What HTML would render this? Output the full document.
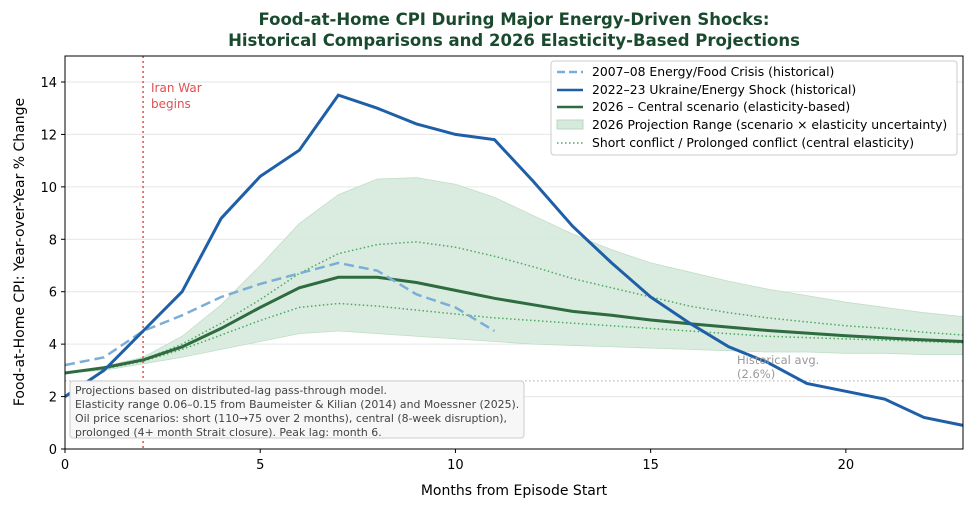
<!DOCTYPE html>
<html><head><meta charset="utf-8"><style>
body{margin:0;background:#fff}
svg text{font-family:"DejaVu Sans","Liberation Sans",sans-serif}
</style></head><body>
<svg id="s" width="979" height="512" viewBox="0 0 979 512" xmlns="http://www.w3.org/2000/svg">
<rect width="979" height="512" fill="#fff"/>
<text x="514" y="25" text-anchor="middle" font-size="16.5" font-weight="bold" fill="#1a4a2e">Food-at-Home CPI During Major Energy-Driven Shocks:</text>
<text x="514" y="46" text-anchor="middle" font-size="16.5" font-weight="bold" fill="#1a4a2e">Historical Comparisons and 2026 Elasticity-Based Projections</text>
<g id="grid" stroke="#e6e6e6" stroke-width="1"></g>
<g id="plot"></g>
<rect x="65" y="56" width="898" height="393" fill="none" stroke="#000" stroke-width="1"/>
<g id="ticks" font-size="13" fill="#000"></g>
<text x="514" y="495" text-anchor="middle" font-size="14">Months from Episode Start</text>
<text transform="translate(24,252) rotate(-90)" text-anchor="middle" font-size="14">Food-at-Home CPI: Year-over-Year % Change</text>
<text x="151" y="92" font-size="12" fill="#e05050">Iran War</text>
<text x="151" y="108" font-size="12" fill="#e05050">begins</text>
<text x="737" y="364" font-size="11.5" fill="#999">Historical avg.</text>
<text x="737" y="378" font-size="11.5" fill="#999">(2.6%)</text>
<rect x="70" y="381" width="454" height="57" rx="3" fill="#f7f7f7" stroke="#ccc"/>
<g font-size="10.9" fill="#444">
<text x="75" y="394">Projections based on distributed-lag pass-through model.</text>
<text x="75" y="408">Elasticity range 0.06–0.15 from Baumeister &amp; Kilian (2014) and Moessner (2025).</text>
<text x="75" y="422">Oil price scenarios: short (110→75 over 2 months), central (8-week disruption),</text>
<text x="75" y="436">prolonged (4+ month Strait closure). Peak lag: month 6.</text>
</g>
<rect x="551" y="61" width="406" height="94" rx="3" fill="#fff" fill-opacity="0.9" stroke="#ccc"/>
<g font-size="12.4" fill="#000">
<line x1="557" y1="72" x2="583" y2="72" stroke="#7aaed6" stroke-width="2.5" stroke-dasharray="8,4"/>
<text x="592" y="76">2007–08 Energy/Food Crisis (historical)</text>
<line x1="557" y1="90" x2="583" y2="90" stroke="#1f5fa8" stroke-width="2.5"/>
<text x="592" y="94">2022–23 Ukraine/Energy Shock (historical)</text>
<line x1="557" y1="107" x2="583" y2="107" stroke="#2e6b3e" stroke-width="2.5"/>
<text x="592" y="111">2026 – Central scenario (elasticity-based)</text>
<rect x="557" y="120" width="26" height="9" fill="#d6eadb" stroke="#b8d8c0"/>
<text x="592" y="129">2026 Projection Range (scenario × elasticity uncertainty)</text>
<line x1="557" y1="143" x2="583" y2="143" stroke="#4ea860" stroke-width="1.5" stroke-dasharray="1.5,2.5"/>
<text x="592" y="147">Short conflict / Prolonged conflict (central elasticity)</text>
</g>
</svg>
<script>
const X=m=>65+m*898/23, Y=v=>449-v*367/14;
const ns="http://www.w3.org/2000/svg";
function el(p,t,a){const e=document.createElementNS(ns,t);for(const k in a)e.setAttribute(k,a[k]);document.getElementById(p).appendChild(e);return e;}
const pts=a=>a.map((v,i)=>X(i).toFixed(1)+","+Y(v).toFixed(1)).join(" ");
for(let v=0;v<=14;v+=2){el("grid","line",{x1:65,x2:963,y1:Y(v),y2:Y(v)});
 el("ticks","line",{x1:61,x2:65,y1:Y(v),y2:Y(v),stroke:"#000"});
 const t=el("ticks","text",{x:57,y:Y(v)+5,"text-anchor":"end"});t.textContent=v;}
for(let m=0;m<=20;m+=5){el("ticks","line",{x1:X(m),x2:X(m),y1:449,y2:453,stroke:"#000"});
 const t=el("ticks","text",{x:X(m),y:469,"text-anchor":"middle"});t.textContent=m;}
const up=[2.9,3.15,3.5,4.3,5.5,7.0,8.6,9.7,10.3,10.35,10.1,9.6,8.9,8.2,7.6,7.1,6.75,6.4,6.1,5.85,5.6,5.4,5.2,5.05];
const lo=[2.9,3.0,3.25,3.5,3.8,4.1,4.4,4.5,4.4,4.3,4.2,4.1,4.0,3.95,3.9,3.85,3.8,3.75,3.7,3.7,3.65,3.65,3.6,3.6];
const band=up.map((v,i)=>X(i)+","+Y(v)).concat(lo.map((v,i)=>[i,v]).reverse().map(([i,v])=>X(i)+","+Y(v))).join(" ");
el("plot","polygon",{points:band,fill:"#d6eadb","fill-opacity":0.9,stroke:"#c0dec8","stroke-width":0.8});
el("plot","line",{x1:65,x2:963,y1:Y(2.6),y2:Y(2.6),stroke:"#aaa","stroke-dasharray":"1.5,2.5"});
el("plot","line",{x1:X(2),x2:X(2),y1:56,y2:449,stroke:"#e05050","stroke-width":1.5,"stroke-dasharray":"2,3"});
const pr=[2.9,3.1,3.4,4.0,4.8,5.7,6.7,7.45,7.8,7.9,7.7,7.35,6.95,6.5,6.15,5.8,5.45,5.2,5.0,4.85,4.7,4.6,4.45,4.35];
const sh=[2.9,3.05,3.35,3.8,4.35,4.9,5.4,5.55,5.45,5.3,5.15,5.0,4.9,4.8,4.7,4.6,4.5,4.4,4.3,4.25,4.2,4.15,4.1,4.05];
[pr,sh].forEach(a=>el("plot","polyline",{points:pts(a),fill:"none",stroke:"#4ea860","stroke-width":1.5,"stroke-dasharray":"1.5,2.5"}));
const ce=[2.9,3.1,3.4,3.9,4.6,5.4,6.15,6.55,6.55,6.35,6.05,5.75,5.5,5.25,5.1,4.92,4.78,4.65,4.52,4.42,4.32,4.24,4.16,4.1];
el("plot","polyline",{points:pts(ce),fill:"none",stroke:"#2e6b3e","stroke-width":3});
const h07=[3.2,3.5,4.5,5.1,5.8,6.3,6.7,7.1,6.8,5.9,5.4,4.5];
el("plot","polyline",{points:pts(h07),fill:"none",stroke:"#7aaed6","stroke-width":2.5,"stroke-dasharray":"10,5"});
const h22=[2.0,3.0,4.5,6.0,8.8,10.4,11.4,13.5,13.0,12.4,12.0,11.8,10.2,8.5,7.1,5.8,4.8,3.9,3.3,2.5,2.2,1.9,1.2,0.9];
el("plot","polyline",{points:pts(h22),fill:"none",stroke:"#1f5fa8","stroke-width":3});
</script>
</body></html>
